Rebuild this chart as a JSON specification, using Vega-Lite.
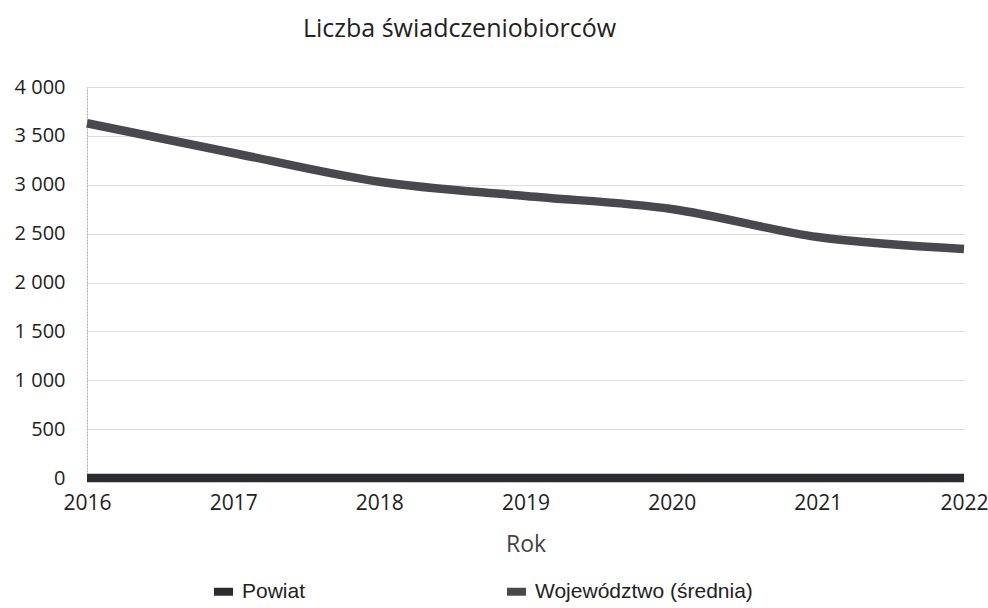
{
  "$schema": "https://vega.github.io/schema/vega-lite/v6.json",
  "width": 877,
  "height": 391,
  "autosize": {"type": "none"},
  "padding": {"left": 87, "top": 87, "right": 24, "bottom": 130},
  "background": "white",
  "title": {"text": "Liczba świadczeniobiorców", "anchor": "middle", "dx": -66, "offset": 35, "fontSize": 25, "font": "Open Sans", "fontWeight": "normal", "color": "#222"},
  "config": {
    "locale": {"number": {"decimal": ",", "thousands": " ", "grouping": [3], "currency": ["", " zł"]}},
    "view": {"stroke": null},
    "font": "Open Sans"
  },
  "data": {"values": [
    {"rok": 2016, "seria": "Powiat", "wartosc": 0},
    {"rok": 2017, "seria": "Powiat", "wartosc": 0},
    {"rok": 2018, "seria": "Powiat", "wartosc": 0},
    {"rok": 2019, "seria": "Powiat", "wartosc": 0},
    {"rok": 2020, "seria": "Powiat", "wartosc": 0},
    {"rok": 2021, "seria": "Powiat", "wartosc": 0},
    {"rok": 2022, "seria": "Powiat", "wartosc": 0},
    {"rok": 2016, "seria": "Województwo (średnia)", "wartosc": 3629},
    {"rok": 2017, "seria": "Województwo (średnia)", "wartosc": 3325},
    {"rok": 2018, "seria": "Województwo (średnia)", "wartosc": 3031},
    {"rok": 2019, "seria": "Województwo (średnia)", "wartosc": 2885},
    {"rok": 2020, "seria": "Województwo (średnia)", "wartosc": 2752},
    {"rok": 2021, "seria": "Województwo (średnia)", "wartosc": 2465},
    {"rok": 2022, "seria": "Województwo (średnia)", "wartosc": 2343}
  ]},
  "mark": {"type": "line", "strokeWidth": 8.5, "interpolate": "monotone", "strokeCap": "butt"},
  "encoding": {
    "x": {
      "field": "rok", "type": "quantitative",
      "scale": {"domain": [2016, 2022], "nice": false, "zero": false},
      "axis": {"format": "d", "values": [2016, 2017, 2018, 2019, 2020, 2021, 2022], "grid": false, "domain": false, "ticks": false,
        "labelFontSize": 21, "labelColor": "#222", "labelPadding": 14, "labelFlush": false, "labelOverlap": false,
        "title": "Rok", "titleFontSize": 23, "titleFontWeight": "normal", "titleColor": "#444", "titlePadding": 20}
    },
    "y": {
      "field": "wartosc", "type": "quantitative",
      "scale": {"domain": [0, 4000], "nice": false},
      "axis": {"values": [0, 500, 1000, 1500, 2000, 2500, 3000, 3500, 4000], "format": ",d", "ticks": false,
        "domain": true, "domainColor": "#aaa", "domainWidth": 1, "domainDash": [2, 1],
        "gridColor": "#ddd", "gridWidth": 1,
        "labelFontSize": 20, "labelColor": "#222", "labelPadding": 22, "title": null}
    },
    "color": {
      "field": "seria", "type": "nominal",
      "scale": {"domain": ["Powiat", "Województwo (średnia)"], "range": ["#2b2b30", "#48484d"]},
      "legend": {"title": null, "orient": "none", "legendX": 126, "legendY": 494, "direction": "horizontal",
        "symbolType": "M-1,-0.42H1V0.42H-1Z", "symbolSize": 361, "symbolStrokeWidth": 0,
        "labelFont": "Liberation Sans", "labelFontSize": 21, "labelColor": "#222", "labelLimit": 400,
        "columnPadding": 200, "labelOffset": 8,
        "encode": {"symbols": {"update": {"fill": {"scale": "color", "field": "value"}, "fillOpacity": {"value": 1}, "strokeWidth": {"value": 0}}}}}
    },
    "order": {"field": "seria"}
  }
}
